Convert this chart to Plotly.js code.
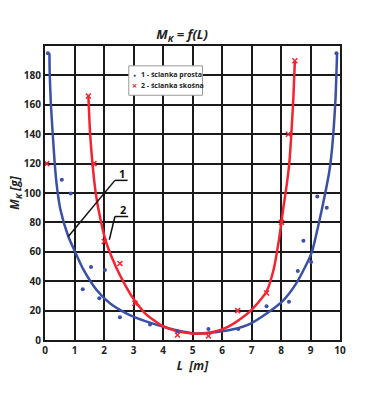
<!DOCTYPE html>
<html><head><meta charset="utf-8">
<script src="https://cdn.plot.ly/plotly-3.0.1.min.js"></script>
<style>html,body{margin:0;padding:0;background:#fff}#chart{width:374px;height:395px}</style>
</head><body><div id="chart"></div>
<script>
// Measured points
const s1_x = [0.1, 0.57, 0.87, 1.28, 1.56, 1.84, 2.03, 2.54, 3.56, 4.49, 5.54, 6.55, 7.51, 8.27, 8.57, 8.76, 9.02, 9.23, 9.55, 9.88];
const s1_y = [195, 109, 99.6, 34.5, 49.6, 28.4, 47.7, 15.5, 10.6, 6, 7.5, 7.5, 23, 26, 47, 67.5, 53, 97.7, 90, 195];
const s2_x = [0.06, 1.47, 1.66, 2.01, 2.54, 3.05, 4.49, 5.54, 6.53, 7.51, 8.02, 8.25, 8.47];
const s2_y = [120, 166, 120, 67, 52, 25, 3.4, 2.7, 20, 32, 80, 140, 190];
// Fitted curves
const c1_x = [0.15, 0.16, 0.2, 0.26, 0.33, 0.4, 0.52, 0.79, 1.02, 1.3, 1.75, 2.2, 2.77, 3.45, 4.1, 4.6, 5.1, 5.6, 6.38, 6.95, 7.51, 8.08, 8.5, 8.8, 9.05, 9.3, 9.5, 9.64, 9.72, 9.79, 9.85, 9.9];
const c1_y = [195, 181, 160, 141, 120, 105, 89, 70.4, 60, 48, 34, 25, 18, 12.5, 8.5, 6, 4.5, 5, 7.3, 11, 18, 27, 38, 49, 60, 81, 100, 115, 128, 145, 165, 195];
const c2_x = [1.47, 1.53, 1.61, 1.72, 1.87, 2.08, 2.4, 2.7, 3.0, 3.4, 3.9, 4.4, 5.1, 5.7, 6.2, 6.6, 6.95, 7.25, 7.51, 7.75, 7.93, 8.08, 8.19, 8.28, 8.35, 8.42, 8.47];
const c2_y = [166, 140, 120, 100, 83, 66, 50, 38, 28, 18, 10.5, 6.5, 4.2, 5.5, 9, 14, 19.5, 26, 33, 48, 68, 90, 105, 120, 140, 165, 190];
const name1 = '1 - ścianka prosta';
const name2 = '2 - ścianka skośna';
const yTicks = [0, 20, 40, 60, 80, 100, 120, 140, 160, 180];
const xTicks = [0,1,2,3,4,5,6,7,8,9,10];

const blue = '#3a4fa6', red = '#f5222f';
const traces = [
  {x: c1_x, y: c1_y, mode: 'lines', line: {color: blue, width: 2.5, shape: 'spline', smoothing: 0.6}, showlegend: false, hoverinfo: 'skip'},
  {x: c2_x, y: c2_y, mode: 'lines', line: {color: red, width: 2.5, shape: 'spline', smoothing: 0.6}, showlegend: false, hoverinfo: 'skip'},
  {x: s1_x, y: s1_y, mode: 'markers', name: name1, showlegend: false, marker: {color: blue, size: 4, symbol: 'circle'}},
  {x: s2_x, y: s2_y, mode: 'markers', name: name2, showlegend: false, marker: {color: red, size: 5, symbol: 'x-thin-open', line: {color: red, width: 1.5}}}
];
const fontFam = '"Open Sans", "Liberation Sans", sans-serif';
const layout = {
  width: 374, height: 395,
  margin: {l: 45, r: 34, t: 46, b: 55},
  paper_bgcolor: '#fff', plot_bgcolor: '#fff',
  font: {family: fontFam, color: '#222'},
  showlegend: false,
  title: {text: '<b><i>M<sub>K</sub> = f(L)</i></b>', x: 0.487, xanchor: 'center', y: 0.912, yanchor: 'middle', font: {size: 13, color: '#222'}},
  xaxis: {
    range: [0, 10], tickvals: xTicks, ticktext: xTicks.map(String),
    showgrid: true, gridcolor: '#1a1a1a', gridwidth: 2,
    showline: true, linecolor: '#1a1a1a', linewidth: 2, mirror: true,
    zeroline: false, ticks: '', ticklen: 0,
    tickfont: {size: 10, weight: 'bold', color: '#222'},
    title: {text: '<b><i>L  [m]</i></b>', font: {size: 12, color: '#222'}, standoff: 6}
  },
  yaxis: {
    range: [0, 200], tickvals: yTicks, ticktext: yTicks.map(String),
    showgrid: true, gridcolor: '#1a1a1a', gridwidth: 2,
    showline: true, linecolor: '#1a1a1a', linewidth: 2, mirror: true,
    zeroline: false, ticks: '',
    tickfont: {size: 10, weight: 'bold', color: '#222'},
    title: {text: '<b><i>M<sub>K</sub> [g]</i></b>', font: {size: 12, color: '#222'}, standoff: 0}
  },
  shapes: [
    {type: 'rect', xref: 'x', yref: 'y', x0: 2.84, y0: 166.5, x1: 5.34, y1: 186.5, fillcolor: '#fff', line: {color: '#999', width: 1}, layer: 'above'},
    {type: 'line', xref: 'x', yref: 'y', x0: 2.37, y0: 108.6, x1: 2.8, y1: 108.6, line: {color: '#111', width: 1.5}},
    {type: 'line', xref: 'x', yref: 'y', x0: 2.37, y0: 108.6, x1: 0.79, y1: 70.4, line: {color: '#111', width: 1.5}},
    {type: 'line', xref: 'x', yref: 'y', x0: 2.37, y0: 84, x1: 2.82, y1: 84, line: {color: '#111', width: 1.5}},
    {type: 'line', xref: 'x', yref: 'y', x0: 2.37, y0: 84, x1: 2.18, y1: 68.2, line: {color: '#111', width: 1.5}}
  ],
  annotations: [
    {x: 2.6, y: 113.6, xref: 'x', yref: 'y', text: '<b>1</b>', showarrow: false, font: {size: 11, color: '#111'}},
    {x: 2.63, y: 88.6, xref: 'x', yref: 'y', text: '<b>2</b>', showarrow: false, font: {size: 11, color: '#111'}},
    {x: 3.04, y: 180.6, xref: 'x', yref: 'y', text: '●', showarrow: false, font: {size: 5, color: blue}},
    {x: 3.04, y: 173.3, xref: 'x', yref: 'y', text: '×', showarrow: false, font: {size: 9, color: red, weight: 'bold'}},
    {x: 3.2, y: 180.6, xref: 'x', yref: 'y', xanchor: 'left', text: '<b>' + name1 + '</b>', showarrow: false, font: {size: 7, color: '#222'}},
    {x: 3.2, y: 173.3, xref: 'x', yref: 'y', xanchor: 'left', text: '<b>' + name2 + '</b>', showarrow: false, font: {size: 7, color: '#222'}}
  ]
};
Plotly.newPlot('chart', traces, layout, {displayModeBar: false, staticPlot: true});
</script></body></html>
